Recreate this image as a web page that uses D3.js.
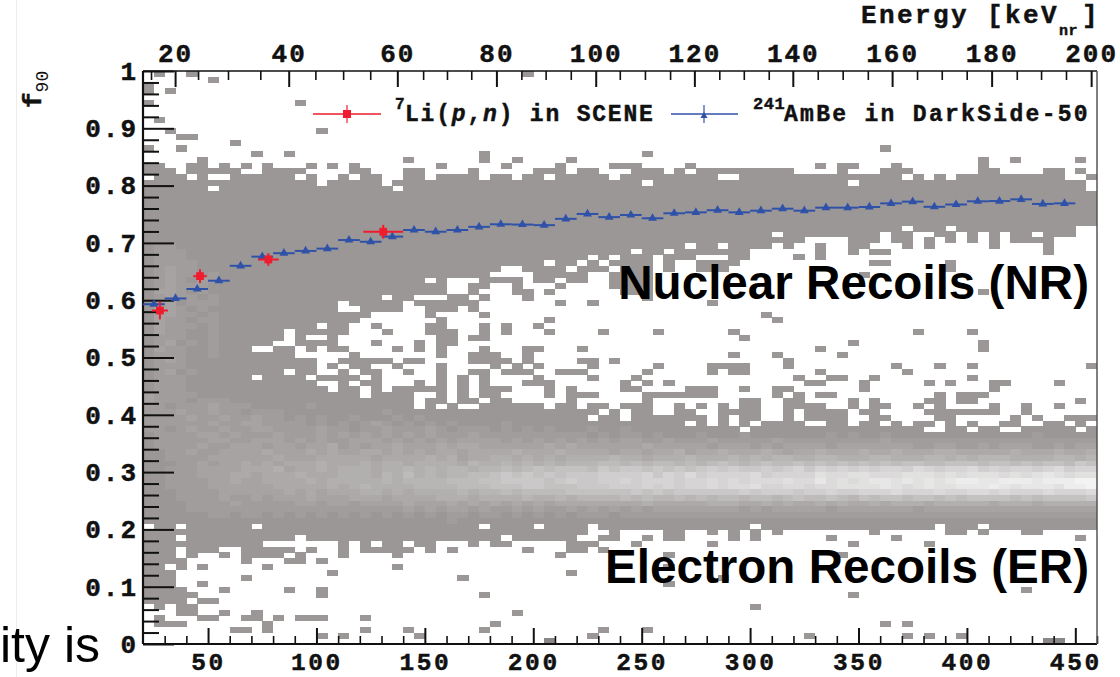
<!DOCTYPE html>
<html><head><meta charset="utf-8">
<script src="https://cdnjs.cloudflare.com/ajax/libs/d3/7.8.5/d3.min.js"></script>
<style>html,body{margin:0;padding:0;background:#fff;overflow:hidden}
svg{display:block}
.m{font-family:"Liberation Mono",monospace;font-weight:700;fill:#111;stroke:#111;stroke-width:.45px}
</style></head><body><svg id="c" width="1120" height="677"></svg>
<script>
// ---- chart data ----
const bottomMajor=[50,100,150,200,250,300,350,400,450];
const bottomMinor=[30,40,60,70,80,90,110,120,130,140,160,170,180,190,210,220,230,240,260,270,280,290,310,320,330,340,360,370,380,390,410,420,430,440,460];
const topLabels=[20,40,60,80,100,120,140,160,180,200];
// energy scale on top: keV_nr and the bottom-axis position it falls on
const energyKeV=[15,20,25,30,35,40,45,50,55,60,65,70,75,80,85,90,95,100,105,110,115,120,125,130,135,140,145,150,155,160,165,170,175,180,185,190,195,200];
const energyAtS1=[23.7,34.8,45.4,59.2,74.1,87.2,99.5,112.3,124.8,137.3,149.2,160.2,171.4,183,194.5,205.7,217.3,228.8,239.9,251.5,263.1,274.3,285.8,297.1,308.6,319.7,331.2,342.7,354.3,365.5,377,388.4,399.9,411.4,423,434.2,445.7,457.3];
const yMajor=[0,.1,.2,.3,.4,.5,.6,.7,.8,.9,1];
const yMinor=[.02,.04,.06,.08,.12,.14,.16,.18,.22,.24,.26,.28,.32,.34,.36,.38,.42,.44,.46,.48,.52,.54,.56,.58,.62,.64,.66,.68,.72,.74,.76,.78,.82,.84,.86,.88,.92,.94,.96,.98];

const ambeS1=[25,35,45,55,65,75,85,95,105,115,125,135,145,155,165,175,185,195,205,215,225,235,245,255,265,275,285,295,305,315,325,335,345,355,365,375,385,395,405,415,425,435,445];
const ambeF90=[.593,.603,.6195,.634,.66,.676,.682,.686,.69,.705,.702,.711,.7225,.7195,.7225,.728,.7325,.732,.731,.742,.7505,.745,.7487,.743,.7517,.7533,.757,.7533,.7562,.7597,.7562,.7615,.7615,.7627,.769,.772,.763,.767,.7726,.773,.776,.768,.769];
const ambeHalfBin=5;
const sceneS1=[27.8,46.3,77.8,130.8];
const sceneF90=[.582,.642,.671,.7195];
const sceneXErr=[3.7,3.1,4.8,9.2];
const sceneYErr=[.0155,.012,.011,.012];

// histogram: 88 columns (5 S1 wide) x 100 rows (0.01 high); row 0 is the top row
const bandTop=[17,17,17,18,16,15,17,16,17,18,18,16,17,17,17,18,20,19,18,16,17,18,20,19,17,17,19,18,18,18,17,19,18,18,19,18,17,17,16,18,17,17,18,19,16,16,17,17,18,17,16,17,17,17,17,17,17,17,17,17,18,18,18,18,16,16,18,18,17,16,17,18,19,18,19,18,18,15,17,18,18,18,18,17,17,19,19,18];
const nrBottom=[60,60,60,60,60,60,60,60,60,60,60,60,60,60,60,60,60,60,60,60,60,60,60,60,60,60,60,60,60,60,35,37,34,33,33,34,36,36,35,35,36,34,34,37,38,38,39,31,34,32,32,34,34,34,33,32,30,30,29,29,29,28,28,28,28,29,28,28,28,28,28,28,28,28,28,28,28,28,28,28,28,28,28,28,28,28,26,26];
const erTop=[61,61,61,61,61,61,61,61,61,61,61,61,61,61,61,61,61,61,61,61,61,61,61,61,61,61,61,61,61,61,59,59,59,59,59,59,59,59,59,59,59,59,59,59,59,59,59,60,60,59,59,60,60,59,59,59,59,61,61,61,61,61,61,61,61,61,61,61,61,61,61,61,61,61,61,61,61,61,61,61,61,61,61,61,61,61,61,61];
const erBottom=[92,93,92,94,84,83,83,82,82,85,84,84,84,83,85,83,81,81,84,81,83,83,83,84,83,82,83,81,81,81,82,81,82,82,81,81,81,81,81,83,83,82,83,81,79,79,79,79,79,79,79,79,79,79,79,79,79,79,79,79,79,79,79,79,79,79,79,79,79,79,79,79,79,79,79,79,79,79,79,79,79,79,79,79,79,79,79,79];
const holeRows=[[17,[44,50,65]],[18,[0,4,6,7,14,19,37,53,54,70]],[19,[46,65,87]],[20,[6,23,87]],[27,[70,74]],[28,[58,68,71,72,75,77,79,82]],
[30,[50,53]],[31,[45,48]],[32,[41,43,51,52,53]],[33,[37,40,42]],[34,[39,43]],
[36,[26,28,29]],[37,[28,29]],[38,[28,29]],[39,[22,25,26,27]],[40,[18,24]],[41,[18,19,24,25,29]],[42,[21,22,23,24,25,27,28,29]],[43,[20,21,22,23,24,25,26,28,29]],[44,[16,19,20,22,23,24,25,28,29]],[45,[13,19,20,21,23,24,25,29]],[46,[13,15,16,18,19,20,21,22,23,24,25,26,29]],[47,[12,13,18,19,20,22,23,24,26,29]],[48,[10,11,14,16,19,20,21,22,24,26,28,29]],[49,[14,15,16,17,18,20,21,22,23,24,25,26,28,29]],[50,[16,17,23,26,27,28,29]],[51,[16,18,21,22,24,25,26,28,29]],[52,[13,16,17,19,22,23,25,26,28,29]],[53,[10,15,20,22,23,24,25,26,28]],[54,[16,17,19,22,23,24,26,28]],[55,[17,20,22,28]],[56,[20,25,26,28]],[57,[25,28]],[58,[25,27,29]],
[59,[42,44]],[60,[41,44,52,54]],[61,[50,52,54,56,61,62,65,68,70,73,75,77,78,81,82,85,87]],[62,[55,72,73,76,79,80,86]],
[79,[0,3,10,31,36,41,56,73,77]],[80,[41,42]],[81,[3,14,33,40,41]],[82,[11,12,13,14,15,17,21,24,31,42]],[83,[3,14]],[84,[3]],[86,[2]],[87,[3]],[88,[3]],[89,[3]]];
const strayRows=[[0,[1,4,35]],[1,[6]],[2,[0]],[3,[0,2]],[5,[0,14]],[8,[1]],[10,[2,16]],[11,[3,4]],[12,[8]],[13,[0,3,68]],[14,[10,13,31,46]],[15,[24,31,34,39,80,86]],[16,[0,1,9,15,17,27,33,43,62]],[17,[86]],
[29,[66,67,69,70,72,74,76,78,80,81,82,83]],[30,[59,62,65,66,70,72,78,83]],[31,[62,65,67,68,83]],[32,[60,62]],[33,[67,68,74]],[34,[74]],[35,[66]],
[36,[32,33,34,39]],[37,[30,34,38]],[38,[30,34,35,37,77]],[39,[31,35]],[40,[30,38,41,52]],[41,[30]],[42,[31,57]],[43,[37,58]],[44,[31,33,36]],[45,[31,33,37,42,47,54,71,76]],[46,[30,31,55]],[47,[65,77]],[48,[31,35,36,40,62,77]],[49,[30,31,32,35,54,58,64]],[50,[30,31,32,33,35,40,41,43,59]],[51,[32,34,36,41,47,52,53,54,55,59,69,73,76,87]],[52,[30,31,33,34,35,38,39,40,46,52,54,55,62,70]],[53,[31,36,41,45,60,63,64,67,76]],[54,[31,35,36,37,44,46,48,61,62,66,72,74,78,79,84]],[55,[31,32,33,37,39,44,45,50,51,52,55,58,59,66,78]],[56,[31,32,37,39,40,41,46,47,48,49,50,51,52,58,60,62,63,73,75,76,77]],[57,[30,32,33,39,46,55,56,59,60,65,67,72,73,75,76,86]],[58,[31,32,33,34,35,36,38,39,41,42,44,45,46,49,51,53,55,56,59,60,61,62,65,67,68,71,73,78,81,84]],[59,[59,61,62,63,64,66,67,72,73,74,75,76,77,78,81]],[60,[59,61,62,63,64,67,68,73,74,80,82,85,86,87]],
[80,[48,49,52,54,56,58,67,74,75,77,81,82]],[81,[46,48,49,54,56,63,69,86]],[82,[45,52,65,72]],[83,[28,35]],[84,[7,14,38,48,64]],[85,[13,14,16]],[86,[5,11,23,48]],[87,[17,39]],[88,[9,29,53]],[89,[5,48]],[90,[7,13,16,81]],[91,[4,16,31,65]],[92,[5,6]],[93,[4,56]],[94,[4,7,10,34]],[95,[1,5,6,9,10,12,14,15,16,20]],[96,[1,2,3,11,32,68,70]],[97,[8,9,11,20,24,31,42,46]],[98,[16,18,25,41,61,70,72,75]],[99,[37,83,84]]];
// brightness (hex 0-f) of filled cells, first string is row 30; short strings continue as 0
const levelFirstRow=30;
const levelRows=["0110","0111","01110","011110","012110","0121101","0121011","0121110","0221010","0121101","0120111","0221010","0221101","0211011","0211101","0211001","0111001","0120101","0211001","0111001","012100","011100","012010","011100","0111","0111",
"21111000000",
"21110111000",
"11011121110 00001",
"11121121101 11000000000 1",
"11112112112 11010100100 0101",
"11111121122 11110101012 10101010000 1",
"11012112112 21111211011 21112101110 10101000100 1",
"01111221211 12111212121 21212111211 11111111010 11010001000 10000000101 00100000000 000001",
"01111122112 22121211222 12121212222 12121212121 22112111211 11121111111 11211111111 11111111111",
"01111211222 12212231212 23222323322 22223232222 22322222122 21212222122 22222112211 21222112122",
"00112112222 32223232233 23232332333 34333433332 33233423343 33432334333 43343334433 33343334334",
"00111122222 23222333332 33334342334 43434344445 44344454445 45455445544 45544455454 55544445545",
"00011212232 32333433343 44344443544 54545455566 56566565676 56766767676 76767766777 67767677687",
"00111222233 34233434443 44545455455 65676777687 88787878989 88989a8a9a9 a9aa9ba9aab 9a9aa9ab9aa",
"00111222332 33343334443 54645455667 87878788899 99a8a9b9aaa ab9aaaacbbc cbbbcccbcbc ccbcbcdcbcc",
"00111122322 33334344444 54555566677 88887898899 a9aaa9aabab abbbcbbdbcb cddcdcdcdee ddeeedeeeff",
"00111122222 23333343454 44455556667 77887778889 99a9a9aabab bcaabbabbcc ccdcbcdccdd dedcdddceef",
"00011112222 22323233344 34344445455 65666677777 78787888888 98999899a99 aaabaaabaab babaaabaaab",
"00011112112 12223222333 23333444344 44544545555 65655656566 56656766765 76776776767 77767677778",
"00001111211 11122122122 22322232323 23232333333 33433333444 33434334343 34344434444 43444344444",
"00001111111 11111111111 11212122121 12121121212 12122222222 12122222122 22222122222 22222222222",
"00000011011 01010101010 10101011011 01010101110 11111111111 11111111111 11111111111 11111111111",
"00000000000 00000000000 0000001"];

// ---- layout and scales ----
const svg=d3.select("#c");
const L=143,R=1097,T=71,B=644,nCols=88,nRows=100,s1Min=20,s1Max=460,s1Bin=5;
const x=d3.scaleLinear().domain([s1Min,s1Max]).range([L,R]);
const y=d3.scaleLinear().domain([0,1]).range([B,T]);
const topX=d3.scaleLinear().domain(energyKeV).range(energyAtS1.map(v=>x(v)));
const shade=d3.scaleLinear().domain([0,15]).range(["#9b9796","#f3f3f3"]);

// faint page edge seen left of the plot
svg.append("line").attr("x1",16.5).attr("x2",16.5).attr("y1",0).attr("y2",677).attr("stroke","#ececec");

// ---- histogram ----
const cells=[];
const holes=new Set(),strays=new Set();
holeRows.forEach(([t,cs])=>cs.forEach(c=>holes.add(t+"_"+c)));
strayRows.forEach(([t,cs])=>cs.forEach(c=>strays.add(t+"_"+c)));
const levels=levelRows.map(s=>s.replace(/ /g,""));
for(let t=0;t<nRows;t++)for(let c=0;c<nCols;c++){
  const k=t+"_"+c;
  const solid=(t>=bandTop[c]&&t<=nrBottom[c])||(t>=erTop[c]&&t<=erBottom[c]);
  if((solid&&!holes.has(k))||strays.has(k)){
    const row=levels[t-levelFirstRow];
    const ch=row&&row[c]?row[c]:"0";
    cells.push({t,c,v:parseInt(ch,16)});
  }
}
svg.append("g").attr("shape-rendering","crispEdges").selectAll("rect").data(cells).join("rect")
  .attr("x",d=>x(s1Min+d.c*s1Bin)).attr("width",x(s1Min+s1Bin)-x(s1Min)+.3)
  .attr("y",d=>y(1-d.t/nRows)).attr("height",y(0)-y(1/nRows)+.3)
  .attr("fill",d=>d.t===99?"#8b8786":shade(d.v));

// ---- axes ----
function clean(g,w,col){g.select(".domain").remove();g.selectAll(".tick line").attr("stroke",col||"#111").attr("stroke-width",w);}
function lab(g,fs,ls){g.select(".domain").remove();g.selectAll("text").attr("class","m").attr("font-size",fs||26).attr("font-family",null).style("letter-spacing",(ls||2)+"px").attr("fill","#111");}
svg.append("g").attr("transform",`translate(0,${B})`).call(d3.axisTop(x).tickValues(bottomMajor).tickSize(16).tickFormat("")).call(clean,2);
svg.append("g").attr("transform",`translate(0,${B})`).call(d3.axisTop(x).tickValues(bottomMinor).tickSize(8).tickFormat("")).call(clean,1.6);
svg.append("g").attr("transform",`translate(0,${B})`).call(d3.axisBottom(x).tickValues(bottomMajor).tickSize(0).tickPadding(9)).call(lab,24.5,2.6);
const topMajorSet=new Set(topLabels);
svg.append("g").attr("transform",`translate(0,${T})`).call(d3.axisBottom(topX).tickValues(topLabels).tickSize(16).tickFormat("")).call(clean,2);
svg.append("g").attr("transform",`translate(0,${T})`).call(d3.axisBottom(topX).tickValues(energyKeV.filter(v=>!topMajorSet.has(v))).tickSize(9).tickFormat("")).call(clean,1.6);
svg.append("g").attr("transform",`translate(0,${T})`).call(d3.axisTop(topX).tickValues(topLabels).tickSize(0).tickPadding(9).tickFormat(d3.format("d"))).call(lab);
svg.append("g").attr("transform",`translate(${L},0)`).call(d3.axisRight(y).tickValues(yMajor).tickSize(31).tickFormat("")).call(clean,2);
svg.append("g").attr("transform",`translate(${L},0)`).call(d3.axisRight(y).tickValues(yMinor).tickSize(16).tickFormat("")).call(clean,2);
svg.append("g").attr("transform",`translate(${L},0)`).call(d3.axisLeft(y).tickValues(yMajor).tickSize(0).tickPadding(5).tickFormat(v=>v===0||v===1?String(v):d3.format(".1f")(v))).call(lab);
// frame
const fr=svg.append("g").attr("fill","none");
fr.append("line").attr("x1",L).attr("x2",R).attr("y1",T).attr("y2",T).attr("stroke","#111").attr("stroke-width",1.6);
fr.append("line").attr("x1",L).attr("x2",R).attr("y1",B).attr("y2",B).attr("stroke","#111").attr("stroke-width",2.2);
fr.append("line").attr("x1",L).attr("x2",L).attr("y1",T).attr("y2",B).attr("stroke","#111").attr("stroke-width",2.2);
fr.append("line").attr("x1",R).attr("x2",R).attr("y1",T).attr("y2",B).attr("stroke","#555").attr("stroke-width",1.5);

// ---- series ----
const blue="#2f52a8",red="#ee1c2e";
const gB=svg.append("g");
gB.selectAll("line.h").data(ambeS1).join("line").attr("class","h")
  .attr("x1",d=>x(d-ambeHalfBin)).attr("x2",d=>x(d+ambeHalfBin))
  .attr("y1",(d,i)=>y(ambeF90[i])).attr("y2",(d,i)=>y(ambeF90[i])).attr("stroke",blue).attr("stroke-width",2);
const tri=d3.symbol().type(d3.symbolTriangle).size(34);
gB.selectAll("path").data(ambeS1).join("path").attr("d",tri)
  .attr("transform",(d,i)=>`translate(${x(d)},${y(ambeF90[i])})`).attr("fill",blue);
const gR=svg.append("g");
sceneS1.forEach((s,i)=>{
  const cx=x(s),cy=y(sceneF90[i]);
  gR.append("line").attr("x1",x(s-sceneXErr[i])).attr("x2",x(s+sceneXErr[i])).attr("y1",cy).attr("y2",cy).attr("stroke",red).attr("stroke-width",2);
  gR.append("line").attr("x1",cx).attr("x2",cx).attr("y1",y(sceneF90[i]+sceneYErr[i])).attr("y2",y(sceneF90[i]-sceneYErr[i])).attr("stroke",red).attr("stroke-width",2);
  gR.append("path").attr("d",d3.symbol().type(d3.symbolSquare).size(60)).attr("transform",`translate(${cx},${cy})`).attr("fill",red);
});

// ---- legend ----
const lg=svg.append("g");
const legendY=114;
lg.append("line").attr("x1",313).attr("x2",381).attr("y1",legendY).attr("y2",legendY).attr("stroke",red).attr("stroke-width",1.6);
lg.append("line").attr("x1",347).attr("x2",347).attr("y1",legendY-9).attr("y2",legendY+9).attr("stroke",red).attr("stroke-width",1.2);
lg.append("rect").attr("x",343).attr("y",legendY-4).attr("width",8).attr("height",8).attr("fill",red);
lg.append("line").attr("x1",671).attr("x2",738).attr("y1",legendY).attr("y2",legendY).attr("stroke",blue).attr("stroke-width",1.6);
lg.append("line").attr("x1",704).attr("x2",704).attr("y1",legendY-9).attr("y2",legendY+9).attr("stroke",blue).attr("stroke-width",1.2);
lg.append("path").attr("d",d3.symbol().type(d3.symbolTriangle).size(22)).attr("transform",`translate(704,${legendY+2})`).attr("fill",blue);
const lgText=(xp,ls)=>lg.append("text").attr("class","m").attr("x",xp).attr("y",legendY+7).attr("font-size",23).style("letter-spacing",ls+"px");
lg.append("text").attr("class","m").attr("x",395).attr("y",legendY-5).attr("font-size",16).text("7");
const t1=lgText(405,1.8);
t1.append("tspan").text("Li(");
t1.append("tspan").attr("font-style","italic").text("p");
t1.append("tspan").text(",");
t1.append("tspan").attr("font-style","italic").text("n");
t1.append("tspan").text(") in SCENE");
lg.append("text").attr("class","m").attr("x",753).attr("y",legendY-5).attr("font-size",17).style("letter-spacing","0.5px").text("241");
lgText(784,2.3).text("AmBe in DarkSide-50");

// ---- axis titles ----
const ti=svg.append("text").attr("class","m").attr("x",861).attr("y",23).attr("font-size",26).style("letter-spacing","2.4px");
ti.append("tspan").text("Energy [keV");
ti.append("tspan").attr("font-size",15).attr("dy",12).style("letter-spacing","0.5px").text("nr");
ti.append("tspan").attr("dy",-12).attr("dx",4).text("]");
const fl=svg.append("text").attr("class","m").attr("transform","translate(41,108) rotate(-90)").attr("font-size",26);
fl.append("tspan").text("f");
fl.append("tspan").attr("font-size",18).attr("dy",7).attr("font-weight",400).style("stroke-width","0").text("90");

// ---- annotations pasted on the slide ----
const ann=(t,xp,yp,fs,anchor,w)=>svg.append("text").attr("x",xp).attr("y",yp).attr("font-size",fs).attr("font-family","'Liberation Sans',Arial,sans-serif").attr("font-weight",w).attr("text-anchor",anchor).attr("fill","#000").text(t);
ann("Nuclear Recoils (NR)",1089,299,47.6,"end",700);
ann("Electron Recoils (ER)",1089,583,47.6,"end",700);
ann("ity is",0,662,50,"start",400);
</script></body></html>
